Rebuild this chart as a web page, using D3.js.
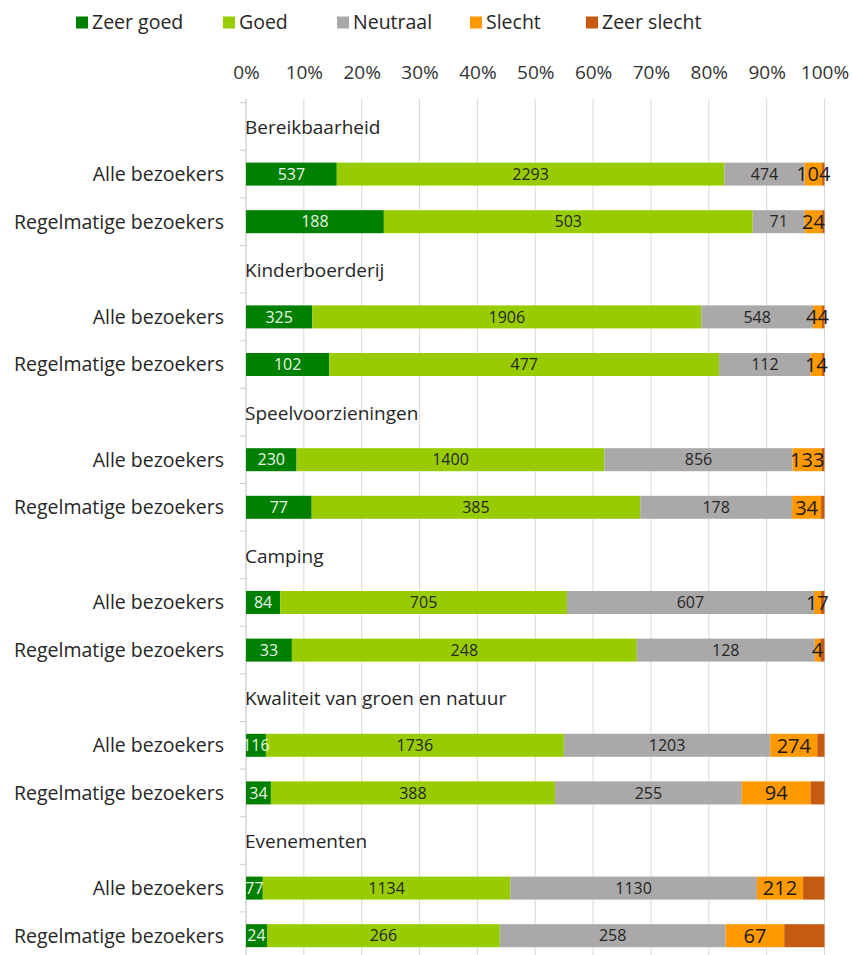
<!DOCTYPE html>
<html>
<head>
<meta charset="utf-8">
<script src="https://cdn.jsdelivr.net/npm/d3@7"></script>
<style>
  body { margin: 0; background: #fff; }
  svg { display: block; font-family: "Open Sans", "Noto Sans", sans-serif; }
</style>
</head>
<body>
<div id="chart"></div>
<script>
// data
const groups = ["Bereikbaarheid", "Kinderboerderij", "Speelvoorzieningen", "Camping", "Kwaliteit van groen en natuur", "Evenementen"]
const respondents = ["Alle bezoekers", "Regelmatige bezoekers"]
const series = ["Zeer goed", "Goed", "Neutraal", "Slecht", "Zeer slecht"]
const xTicks = [0, 0.1, 0.2, 0.3, 0.4, 0.5, 0.6, 0.7, 0.8, 0.9, 1]

// per group: alle, regelmatige
const zeerGoed   = [537, 188, 325, 102, 230, 77, 84, 33, 116, 34, 77, 24]
const goed       = [2293, 503, 1906, 477, 1400, 385, 705, 248, 1736, 388, 1134, 266]
const neutraal   = [474, 71, 548, 112, 856, 178, 607, 128, 1203, 255, 1130, 258]
const slecht     = [104, 24, 44, 14, 133, 34, 17, 4, 274, 94, 212, 67]
// no labels in the source
const zeerSlecht = [14, 3, 12, 3, 12, 4, 9, 3, 42, 19, 98, 46]

const colors = ["#008000", "#99cc00", "#aaa8a8", "#ff9900", "#c55a11"]
const labelColors = ["#e9f5e4", "#262626", "#262626", "#1a1a1a", null]
const legendX = [76, 223, 337, 470, 586]

const width = 852, height = 955
const plotLeft = 246, plotRight = 824.5, plotTop = 102.7, plotBottom = 959.5

// rows: a header row per group, then the two respondent rows
const rows = []
groups.forEach((g, gi) => {
	rows.push({ key: "h" + gi, header: g })
	respondents.forEach((r, ri) => {
		const i = gi * 2 + ri
		rows.push({
			key: "r" + i, label: r,
			"Zeer goed": zeerGoed[i], "Goed": goed[i], "Neutraal": neutraal[i],
			"Slecht": slecht[i], "Zeer slecht": zeerSlecht[i]
		})
	})
})
const barRows = rows.filter(d => !d.header)

const svg = d3.select("#chart").append("svg")
	.attr("width", width)
	.attr("height", height)

const x = d3.scaleLinear().domain([0, 1]).range([plotLeft, plotRight])
const y = d3.scaleBand().domain(rows.map(d => d.key)).range([plotTop, plotBottom]).paddingInner(0)

// gridlines
svg.append("g")
	.selectAll("line")
	.data(xTicks)
	.enter()
	.append("line")
		.attr("x1", d => x(d)).attr("x2", d => x(d))
		.attr("y1", plotTop - 4).attr("y2", height)
		.attr("stroke", "#d9d9d9")
		.attr("stroke-width", 1)

// left axis line + ticks at band edges
svg.append("line")
	.attr("x1", plotLeft).attr("x2", plotLeft)
	.attr("y1", plotTop - 4).attr("y2", height)
	.attr("stroke", "#cfcfcf")
svg.append("g")
	.selectAll("line")
	.data(rows)
	.enter()
	.append("line")
		.attr("x1", plotLeft - 6).attr("x2", plotLeft)
		.attr("y1", d => y(d.key)).attr("y2", d => y(d.key))
		.attr("stroke", "#cfcfcf")

// top axis
const xAxis = svg.append("g")
	.attr("transform", "translate(0," + 83 + ")")
	.call(d3.axisTop(x).tickValues(xTicks).tickFormat(d3.format(".0%")).tickSize(0).tickPadding(4))
xAxis.select(".domain").remove()
xAxis.selectAll("text")
	.style("font-size", "19px")
	.style("font-family", "\"Open Sans\", \"Noto Sans\", sans-serif")
	.attr("fill", "#333")

// category labels
svg.append("g")
	.selectAll("text")
	.data(barRows)
	.enter()
	.append("text")
		.attr("x", plotLeft - 22)
		.attr("y", d => y(d.key) + y.bandwidth() / 2)
		.attr("dy", "0.35em")
		.attr("text-anchor", "end")
		.style("font-size", "19.5px")
		.attr("fill", "#262626")
		.text(d => d.label)

// group headers
svg.append("g")
	.selectAll("text")
	.data(rows.filter(d => d.header))
	.enter()
	.append("text")
		.attr("x", plotLeft - 1)
		.attr("y", d => y(d.key) + y.bandwidth() / 2 + 1)
		.attr("dy", "0.35em")
		.style("font-size", "19px")
		.attr("fill", "#262626")
		.text(d => d.header)

// stacked bars
const stack = d3.stack().keys(series).offset(d3.stackOffsetExpand)
const stacked = stack(barRows)
const barH = 23

const layers = svg.append("g")
	.selectAll("g")
	.data(stacked)
	.enter()
	.append("g")
		.attr("fill", (d, i) => colors[i])

layers.selectAll("rect")
	.data(d => d)
	.enter()
	.append("rect")
		.attr("x", d => x(d[0]))
		.attr("width", d => x(d[1]) - x(d[0]))
		.attr("y", d => y(d.data.key) + (y.bandwidth() - barH) / 2)
		.attr("height", barH)

// data labels (not for Zeer slecht)
stacked.forEach((layer, i) => {
	if (!labelColors[i]) return
	svg.append("g")
		.selectAll("text")
		.data(layer)
		.enter()
		.append("text")
			.attr("x", d => (x(d[0]) + x(d[1])) / 2)
			.attr("y", d => y(d.data.key) + y.bandwidth() / 2)
			.attr("dy", "0.36em")
			.attr("text-anchor", "middle")
			.style("font-size", layer.key === "Slecht" ? "20px" : "16px")
			.attr("fill", labelColors[i])
			.text(d => d.data[layer.key])
})

// legend
const legend = svg.append("g")
	.selectAll("g")
	.data(series)
	.enter()
	.append("g")
		.attr("transform", (d, i) => "translate(" + legendX[i] + ",0)")
legend.append("rect")
	.attr("x", 0).attr("y", 16.5)
	.attr("width", 12).attr("height", 12)
	.attr("fill", (d, i) => colors[i])
legend.append("text")
	.attr("x", 16).attr("y", 29)
	.style("font-size", "19.5px")
	.attr("fill", "#262626")
	.text(d => d)
</script>
</body>
</html>
